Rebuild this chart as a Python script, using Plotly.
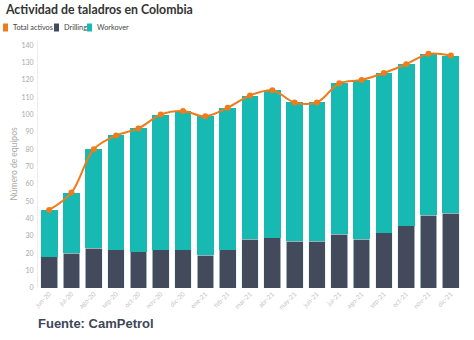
import plotly.graph_objects as go

meses = ["jun-20", "jul-20", "ago-20", "sep-20", "oct-20", "nov-20", "dic-20",
         "ene-21", "feb-21", "mar-21", "abr-21", "may-21", "jun-21", "jul-21",
         "ago-21", "sep-21", "oct-21", "nov-21", "dic-21"]
total_activos = [45, 55, 80, 88, 92, 100, 102, 99, 104, 111, 114, 107, 107, 118,
                 120, 124, 129, 135, 134]
drilling = [18, 20, 23, 22, 21, 22, 22, 19, 22, 28, 29, 27, 27, 31, 28, 32, 36, 42, 43]
workover = [t - d for t, d in zip(total_activos, drilling)]

C_TOTAL = "#F07B1A"
C_DRILL = "#434A5C"
C_WORK = "#17BAB2"

fig = go.Figure()
fig.add_trace(go.Bar(x=meses, y=drilling, name="Drilling", marker_color=C_DRILL,
                     marker_line_width=0.6, marker_line_color="#d9f2f0"))
fig.add_trace(go.Bar(x=meses, y=workover, name="Workover", marker_color=C_WORK,
                     marker_line_width=0))
fig.add_trace(go.Scatter(x=meses, y=total_activos, name="Total activos",
                         mode="lines+markers", line=dict(color=C_TOTAL, width=2, shape="spline"),
                         marker=dict(color=C_TOTAL, size=6)))

L, R, T, B = 38, 12, 40, 52
W, H = 474, 340
pw, ph = W - L - R, H - T - B

def px(x):
    return (x - L) / pw

def py(y):
    return (H - B - y) / ph

legend_items = [("Total activos", C_TOTAL, 3, 11), ("Drilling", C_DRILL, 54, 62), ("Workover", C_WORK, 87, 95)]
shapes = []
annotations = []
for name, col, sx, tx in legend_items:
    shapes.append(dict(type="rect", xref="paper", yref="paper", x0=px(sx), x1=px(sx + 5),
                       y0=py(31.5), y1=py(23.5), fillcolor=col, line_width=0))
    annotations.append(dict(text=name, xref="paper", yref="paper", x=px(tx), y=py(27.5),
                            xanchor="left", yanchor="middle", showarrow=False,
                            font=dict(family="Lato", size=7.3, color="#444")))

annotations.append(dict(text="<b>Actividad de taladros en Colombia</b>", xref="paper", yref="paper",
                        x=px(3), y=py(9.5), xanchor="left", yanchor="middle", showarrow=False,
                        font=dict(family="Lato", size=12.3, color="#333")))
annotations.append(dict(text="<b>Fuente: CamPetrol</b>", xref="paper", yref="paper",
                        x=px(36), y=py(323), xanchor="left", yanchor="middle", showarrow=False,
                        font=dict(family="Liberation Sans", size=13, color="#3d4758")))

fig.update_layout(
    width=W, height=H, margin=dict(l=L, r=R, t=T, b=B, pad=0, autoexpand=False),
    barmode="stack", bargap=0.25, showlegend=False,
    plot_bgcolor="white", paper_bgcolor="white",
    shapes=shapes, annotations=annotations,
    xaxis=dict(tickangle=-45, tickfont=dict(family="Lato", size=6.5, color="#c4c4c4"),
               range=[-0.5, len(meses) - 0.5],
               showgrid=False, showline=False, ticks="", zeroline=False, automargin=False),
    yaxis=dict(range=[0, 143], dtick=10, tickfont=dict(family="Lato", size=7, color="#aaaaaa"),
               showgrid=False, zeroline=False, showline=True, linecolor="#eeeeee", linewidth=1,
               ticks="", ticklabelstandoff=2, automargin=False,
               title=dict(text="Número de equipos", font=dict(family="Lato", size=8.5, color="#aaaaaa"),
                          standoff=2)),
)

fig.write_html("out.html")
